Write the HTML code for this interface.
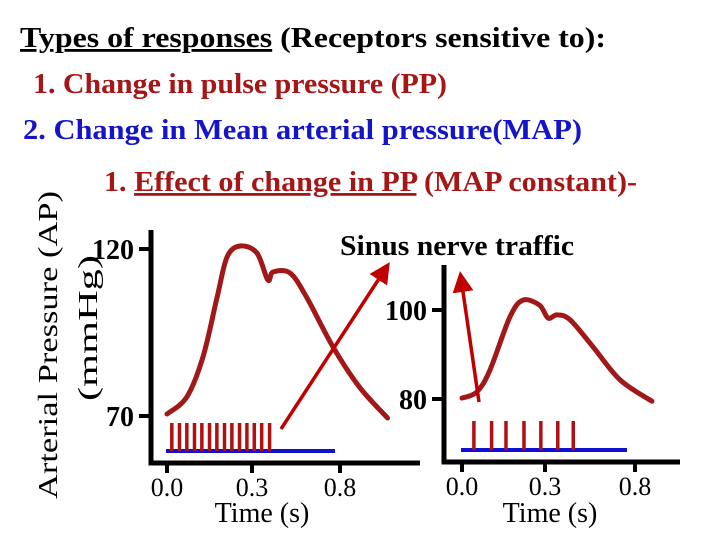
<!DOCTYPE html>
<html><head><meta charset="utf-8"><style>
html,body{margin:0;padding:0;background:#fff;}
svg{display:block;}
text{font-family:"Liberation Serif",serif;}
</style></head><body>
<svg id="s" width="720" height="540" viewBox="0 0 720 540">
<defs>
<marker id="ah" markerWidth="6" markerHeight="6" refX="4" refY="3" orient="auto" markerUnits="strokeWidth"><path d="M0,0 L6,3 L0,6 Z" fill="#c00000"/></marker>
</defs>
<text x="20" y="47" font-size="28" font-weight="bold" textLength="586" lengthAdjust="spacingAndGlyphs"><tspan text-decoration="underline">Types of responses</tspan> (Receptors sensitive to):</text>
<text x="33" y="93" font-size="28" font-weight="bold" fill="#a51616" textLength="414" lengthAdjust="spacingAndGlyphs">1. Change in pulse pressure (PP)</text>
<text x="23" y="139" font-size="28" font-weight="bold" fill="#1414c8" textLength="559" lengthAdjust="spacingAndGlyphs">2. Change in Mean arterial pressure(MAP)</text>
<text x="104" y="191" font-size="28" font-weight="bold" fill="#a51616" textLength="533" lengthAdjust="spacingAndGlyphs">1. <tspan text-decoration="underline">Effect of change in PP</tspan> (MAP constant)-</text>
<text transform="translate(57,345) rotate(-90)" text-anchor="middle" font-size="27" textLength="308" lengthAdjust="spacingAndGlyphs">Arterial Pressure (AP)</text>
<text transform="translate(97,328) rotate(-90)" text-anchor="middle" font-size="27" textLength="146" lengthAdjust="spacingAndGlyphs">(mmHg)</text>
<text x="340" y="255" font-size="28" font-weight="bold" textLength="234" lengthAdjust="spacingAndGlyphs">Sinus nerve traffic</text>
<g id="g"></g>
</svg>
<script>
// Left panel data
const leftTicksX = [0.0, 0.3, 0.8];
const leftTickLabelsX = ["0.0", "0.3", "0.8"];
const leftTicksY = [120, 70];
const leftWaveT = [0, 0.07, 0.127, 0.177, 0.212, 0.258, 0.328, 0.39, 0.42, 0.516, 0.61, 0.76, 0.91, 1.07];
const leftWaveP = [70.6, 75.7, 87.7, 105.6, 117.6, 120.9, 118.8, 110.7, 113.1, 112.8, 105.6, 90.7, 78.7, 69.4];
const leftSpikeT = [0.017, 0.044, 0.07, 0.097, 0.123, 0.15, 0.176, 0.203, 0.229, 0.256, 0.282, 0.313, 0.355, 0.40];
// Right panel data
const rightTicksX = [0.0, 0.3, 0.8];
const rightTickLabelsX = ["0.0", "0.3", "0.8"];
const rightTicksY = [100, 80];
const rightWaveT = [0, 0.054, 0.101, 0.173, 0.22, 0.28, 0.317, 0.367, 0.439, 0.567, 0.717, 0.894];
const rightWaveP = [80.2, 81.6, 86.5, 98.4, 102.2, 101.1, 98.2, 98.9, 97.8, 91.7, 84.3, 79.5];
const rightSpikeT = [0.043, 0.107, 0.159, 0.224, 0.285, 0.371, 0.457];

const NS = "http://www.w3.org/2000/svg";
const G = document.getElementById('g');
function mk(tag, attrs, parent) {
  const e = document.createElementNS(NS, tag);
  for (const k in attrs) e.setAttribute(k, attrs[k]);
  (parent || G).appendChild(e);
  return e;
}
function pw(d, r) { return v => { if (v <= d[1]) return r[0] + (v - d[0]) * (r[1] - r[0]) / (d[1] - d[0]); return r[1] + (v - d[1]) * (r[2] - r[1]) / (d[2] - d[1]); }; }
function lin(d, r) { return v => r[0] + (v - d[0]) * (r[1] - r[0]) / (d[1] - d[0]); }
function smooth(pts) {
  let d = "M" + pts[0][0] + "," + pts[0][1];
  for (let i = 0; i < pts.length - 1; i++) {
    const p0 = pts[Math.max(0, i - 1)], p1 = pts[i], p2 = pts[i + 1], p3 = pts[Math.min(pts.length - 1, i + 2)];
    const c1 = [p1[0] + (p2[0] - p0[0]) / 6, p1[1] + (p2[1] - p0[1]) / 6];
    const c2 = [p2[0] - (p3[0] - p1[0]) / 6, p2[1] - (p3[1] - p1[1]) / 6];
    d += " C" + c1 + " " + c2 + " " + p2;
  }
  return d;
}
function panel(o) {
  const x = pw([0, 0.3, 0.8], o.xr), y = lin(o.yd, o.yr);
  const ax = mk('path', { d: `M${o.ax0},${o.yTop} V${o.base} H${o.axEnd}`, fill: 'none', stroke: '#000', 'stroke-width': 5 });
  
  
  o.ticksY.forEach(v => {
    const t = mk('line', { x1: o.ax0 - 12, x2: o.ax0, y1: y(v), y2: y(v), stroke: '#000', 'stroke-width': 4 });
    
    
    const l = mk('text', { x: o.ax0 - 17, y: y(v) + 10, 'text-anchor': 'end', 'font-size': 28, 'font-weight': 'bold' });
    l.textContent = v;
    
    
  });
  o.ticksX.forEach((v, i) => {
    const t = mk('line', { x1: x(v), x2: x(v), y1: o.base, y2: o.base + 10, stroke: '#000', 'stroke-width': 4 });
    
    
    const l = mk('text', { x: x(v), y: o.base + 33, 'text-anchor': 'middle', 'font-size': 26 });
    l.textContent = o.labelsX[i];
    
    
  });
  const xt = mk('text', { x: o.titleX, y: 522, 'text-anchor': 'middle', 'font-size': 28 });
  xt.textContent = 'Time (s)';
  
  
  const bl = mk('line', { x1: x(0) - 1, x2: o.blueEnd, y1: o.spikeBottom, y2: o.spikeBottom, stroke: '#1010d0', 'stroke-width': 4 });
  
  
  o.spikes.forEach(t => {
    const s = mk('line', { x1: x(t), x2: x(t), y1: o.spikeTop, y2: o.spikeBottom, stroke: '#b01010', 'stroke-width': 3.5 });
    
    
  });
  const pts = o.wt.map((t, i) => [x(t), y(o.wp[i])]);
  const w = mk('path', { d: smooth(pts), fill: 'none', stroke: '#a01818', 'stroke-width': 5, 'stroke-linecap': 'round' });
  
  
  const a = mk('line', { x1: o.arrow[0], y1: o.arrow[1], x2: o.arrow[2], y2: o.arrow[3], stroke: '#c00000', 'stroke-width': 3.5, 'marker-end': 'url(#ah)' });
  
  
}
panel({ name: 'left', xr: [167, 252, 340], yd: [120, 70], yr: [249, 416], ax0: 151, yTop: 230, base: 463, axEnd: 420,
  ticksY: leftTicksY, ticksX: leftTicksX, labelsX: leftTickLabelsX, titleX: 262, blueEnd: 335, spikeTop: 423, spikeBottom: 451,
  spikes: leftSpikeT, wt: leftWaveT, wp: leftWaveP, arrow: [281, 429, 386, 268] });
panel({ name: 'right', xr: [462, 545, 635], yd: [100, 80], yr: [310, 399], ax0: 444, yTop: 265, base: 462, axEnd: 680,
  ticksY: rightTicksY, ticksX: rightTicksX, labelsX: rightTickLabelsX, titleX: 550, blueEnd: 627, spikeTop: 421, spikeBottom: 450,
  spikes: rightSpikeT, wt: rightWaveT, wp: rightWaveP, arrow: [479, 402, 461, 278] });
</script>
</body></html>
